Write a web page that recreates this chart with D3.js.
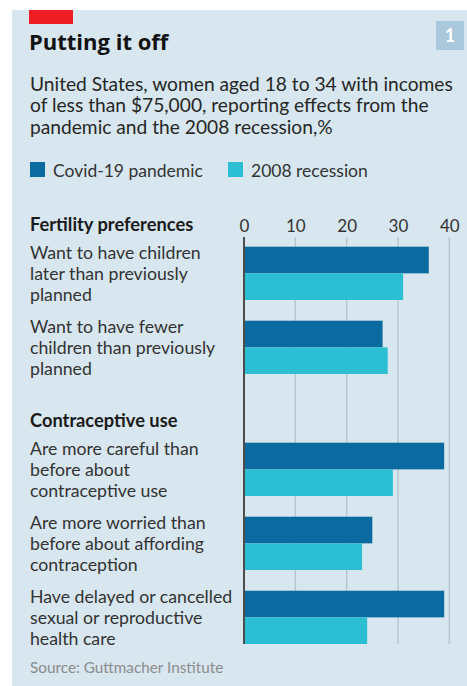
<!DOCTYPE html>
<html lang="en">
    <head>
        <meta charset="utf-8">
        <title>Putting it off</title>
        <script src="https://d3js.org/d3.v7.min.js"></script>
        <style type="text/css">
            body { margin: 0; background: #fff; }
            text { font-family: Lato, "Noto Sans", sans-serif; }
            text.title { font-family: "Open Sans", Lato, sans-serif; }
        </style>
    </head>
    <body>
        <script type="text/javascript">

        // Constants
            const w = 467;
            const h = 686;

        // Data
            const sections = ["Fertility preferences", "Contraceptive use"];
            const itemSection = [0, 0, 1, 1, 1];
            const itemLabels = [
                ["Want to have children", "later than previously", "planned"],
                ["Want to have fewer", "children than previously", "planned"],
                ["Are more careful than", "before about", "contraceptive use"],
                ["Are more worried than", "before about affording", "contraception"],
                ["Have delayed or cancelled", "sexual or reproductive", "health care"]
            ];
            const seriesNames = ["Covid-19 pandemic", "2008 recession"];
            const covidValues = [36, 27, 39, 25, 39];
            const recessionValues = [31, 28, 29, 23, 24];
            const tickValues = [0, 10, 20, 30, 40];

            const colors = ["#0b6a9f", "#2cbfd3"];

            const data = itemLabels.map((lab, i) => ({
                id: i,
                lines: lab,
                section: itemSection[i],
                values: [covidValues[i], recessionValues[i]]
            }));

        // SVG
            const svg = d3.select("body")
                          .append("svg")
                          .attr("width", w)
                          .attr("height", h);

            // panel
            svg.append("rect")
               .attr("x", 12).attr("y", 10)
               .attr("width", w - 12).attr("height", h - 10)
               .attr("fill", "#d7e6ef");

            svg.append("rect")
               .attr("x", 29).attr("y", 10)
               .attr("width", 44).attr("height", 14)
               .attr("fill", "#ee1c25");

            svg.append("rect")
               .attr("x", 436).attr("y", 21)
               .attr("width", 28).attr("height", 29)
               .attr("fill", "#a9c8dc");

            svg.append("text")
               .attr("x", 450).attr("y", 42)
               .attr("text-anchor", "middle")
               .attr("font-size", "18px")
               .attr("font-weight", "bold")
               .attr("fill", "#fff")
               .text("1");

            // title + subtitle
            svg.append("text")
               .attr("class", "title")
               .attr("x", 29).attr("y", 50)
               .attr("font-size", "22px")
               .attr("font-weight", "bold")
               .attr("fill", "#121212")
               .text("Putting it off");

            const subtitle = [
                "United States, women aged 18 to 34 with incomes",
                "of less than $75,000, reporting effects from the",
                "pandemic and the 2008 recession,%"
            ];
            svg.append("g").selectAll("text")
               .data(subtitle)
               .enter()
               .append("text")
               .attr("x", 30)
               .attr("y", (d, i) => 90.5 + i * 21.5)
               .attr("font-size", "19.2px")
               .attr("fill", "#262626")
               .text(d => d);

            // legend
            const legendX = [30, 228];
            const legend = svg.append("g").selectAll("g")
                              .data(seriesNames)
                              .enter()
                              .append("g")
                              .attr("transform", (d, i) => "translate(" + legendX[i] + ",162)");
            legend.append("rect")
                  .attr("width", 15).attr("height", 15)
                  .attr("fill", (d, i) => colors[i]);
            legend.append("text")
                  .attr("x", 23).attr("y", 15)
                  .attr("font-size", "17.5px")
                  .attr("fill", "#333")
                  .text(d => d);

        // Scales
            const xScale = d3.scaleLinear()
                             .domain([0, 40])
                             .range([244, 449.3]);

            const sectionGap = 48;
            const yScale = d3.scaleBand()
                             .domain(data.map(d => d.id))
                             .range([246.7, 596])
                             .paddingInner(0.28)
                             .paddingOuter(0);

            const ySub = d3.scaleBand()
                           .domain([0, 1])
                           .range([0, yScale.bandwidth()]);

            const yTop = d => yScale(d.id) + d.section * sectionGap;

            const gridTop = 237;
            const gridBottom = yTop(data[data.length - 1]) + yScale.bandwidth();

        // Axis (top, labels only)
            const topAxis = d3.axisTop(xScale)
                              .tickValues(tickValues)
                              .tickSize(0)
                              .tickPadding(0);

            const axisG = svg.append("g")
                             .attr("transform", "translate(0,231.5)")
                             .call(topAxis);
            axisG.select(".domain").remove();
            axisG.selectAll("text")
                 .attr("font-size", "17px")
                 .attr("fill", "#333")
                 .attr("dy", 0);

            // gridlines
            svg.append("g").selectAll("line")
               .data(tickValues.slice(1))
               .enter()
               .append("line")
               .attr("x1", d => xScale(d)).attr("x2", d => xScale(d))
               .attr("y1", gridTop).attr("y2", gridBottom)
               .attr("stroke", "#b7c5ce")
               .attr("stroke-width", 1.4);

        // Bars
            const groups = svg.append("g").selectAll("g")
                              .data(data)
                              .enter()
                              .append("g")
                              .attr("transform", d => "translate(0," + yTop(d) + ")");

            groups.selectAll("rect")
                  .data(d => d.values)
                  .enter()
                  .append("rect")
                  .attr("x", xScale(0))
                  .attr("y", (v, j) => ySub(j))
                  .attr("width", v => xScale(v) - xScale(0))
                  .attr("height", ySub.bandwidth())
                  .attr("fill", (v, j) => colors[j]);

            // zero line
            svg.append("line")
               .attr("x1", xScale(0)).attr("x2", xScale(0))
               .attr("y1", gridTop).attr("y2", gridBottom)
               .attr("stroke", "#4d4d4d")
               .attr("stroke-width", 2);

        // Labels
            svg.append("g").selectAll("text")
               .data(sections)
               .enter()
               .append("text")
               .attr("x", 30)
               .attr("y", (s, k) => yTop(data[itemSection.indexOf(k)]) - 15.5)
               .attr("font-size", "18.3px")
               .attr("font-weight", "bold")
               .attr("fill", "#1a1a1a")
               .text(s => s);

            const labelText = svg.append("g").selectAll("text")
               .data(data)
               .enter()
               .append("text")
               .attr("x", 30)
               .attr("y", d => yTop(d) + 12)
               .attr("font-size", "17.7px")
               .attr("fill", "#333");

            labelText.selectAll("tspan")
                     .data(d => d.lines)
                     .enter()
                     .append("tspan")
                     .attr("x", 30)
                     .attr("dy", (l, i) => i === 0 ? 0 : 21)
                     .text(l => l);

            svg.append("text")
               .attr("x", 30).attr("y", 673)
               .attr("font-size", "15.3px")
               .attr("fill", "#8c8c8c")
               .text("Source: Guttmacher Institute");

        </script>
    </body>
</html>
